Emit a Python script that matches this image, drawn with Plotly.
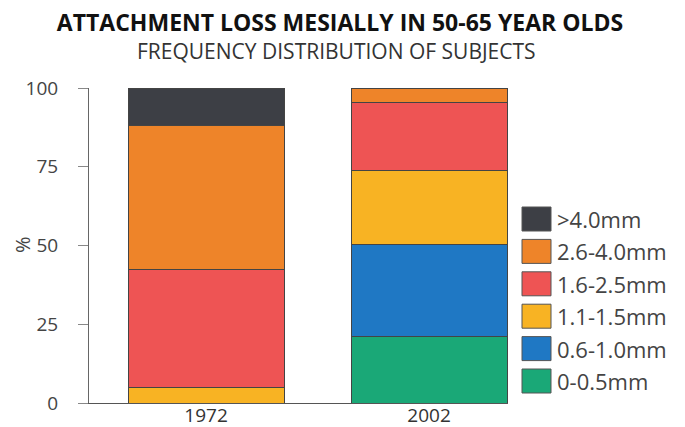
import plotly.graph_objects as go

# data
years = ['1972', '2002']
bands = ['0-0.5mm', '0.6-1.0mm', '1.1-1.5mm', '1.6-2.5mm', '2.6-4.0mm', '>4.0mm']
colors = ['#1aa877', '#1f78c4', '#f8b323', '#ee5454', '#ee8429', '#3d3f45']
pct_1972 = [0, 0, 5, 37.5, 45.5, 12]
pct_2002 = [21, 29.4, 23.3, 21.8, 4.5, 0]
y_ticks = [0, 25, 50, 75, 100]

# page has an 8px body margin, so the figure is drawn 8px smaller
OFF = 8
W, H = 685 - OFF, 427 - OFF
L, R, T, B = 81, 177, 80, 24
plot_w = W - L - R
plot_h = H - T - B


def px(x):  # page pixel -> paper
    return (x - OFF - L) / plot_w


def py(y):
    return (H - B - (y - OFF)) / plot_h


fig = go.Figure()
for i, band in enumerate(bands):
    fig.add_trace(go.Bar(
        x=years, y=[pct_1972[i], pct_2002[i]], name=band,
        marker=dict(color=colors[i], line=dict(color='#444', width=1)),
        width=0.7, showlegend=False,
    ))

# hand-drawn legend (big square swatches), top item first
for k, band in enumerate(reversed(bands)):
    cy = 219 + k * 32.4
    fig.add_shape(type='rect', xref='paper', yref='paper',
                  x0=px(522), x1=px(551), y0=py(cy + 12), y1=py(cy - 12),
                  fillcolor=colors[len(bands) - 1 - k], line=dict(color='#555', width=1))
    fig.add_annotation(text=band, xref='paper', yref='paper',
                       x=px(555), y=py(cy),
                       xanchor='left', yanchor='middle', showarrow=False,
                       font=dict(size=22, color='#444', family='Open Sans'))

fig.add_annotation(text='FREQUENCY DISTRIBUTION OF SUBJECTS',
                   xref='paper', yref='paper', x=px(336), y=py(51),
                   xanchor='center', yanchor='middle', showarrow=False,
                   font=dict(size=21, color='#333', family='Open Sans'))
fig.add_annotation(text='%', xref='paper', yref='paper', x=px(22), y=py(245),
                   xanchor='center', yanchor='middle', showarrow=False, textangle=-90,
                   font=dict(size=20, color='#444', family='Open Sans'))

fig.update_layout(
    width=W, height=H, barmode='stack',
    margin=dict(l=L, r=R, t=T, b=B, autoexpand=False),
    paper_bgcolor='white', plot_bgcolor='white',
    font=dict(family='Open Sans', color='#444'),
    title=dict(text='<b>ATTACHMENT LOSS MESIALLY IN 50-65 YEAR OLDS</b>',
               x=(340 - OFF) / W, xanchor='center', y=1 - (23 - OFF) / H, yanchor='middle',
               font=dict(size=23, color='#111', family='Open Sans')),
    xaxis=dict(range=[-0.525, 1.354], showline=True, linecolor='#555', linewidth=1,
               ticks='', tickfont=dict(size=19, color='#333'), showgrid=False,
               ticklabelstandoff=-5, automargin=False, fixedrange=True),
    yaxis=dict(range=[0, 100], tickvals=y_ticks, showline=True, linecolor='#666',
               linewidth=1, ticks='outside', ticklen=10, tickcolor='#888',
               ticklabelstandoff=16,
               tickfont=dict(size=19, color='#444'), showgrid=False, zeroline=False,
               automargin=False),
)

fig.write_html('out.html')
